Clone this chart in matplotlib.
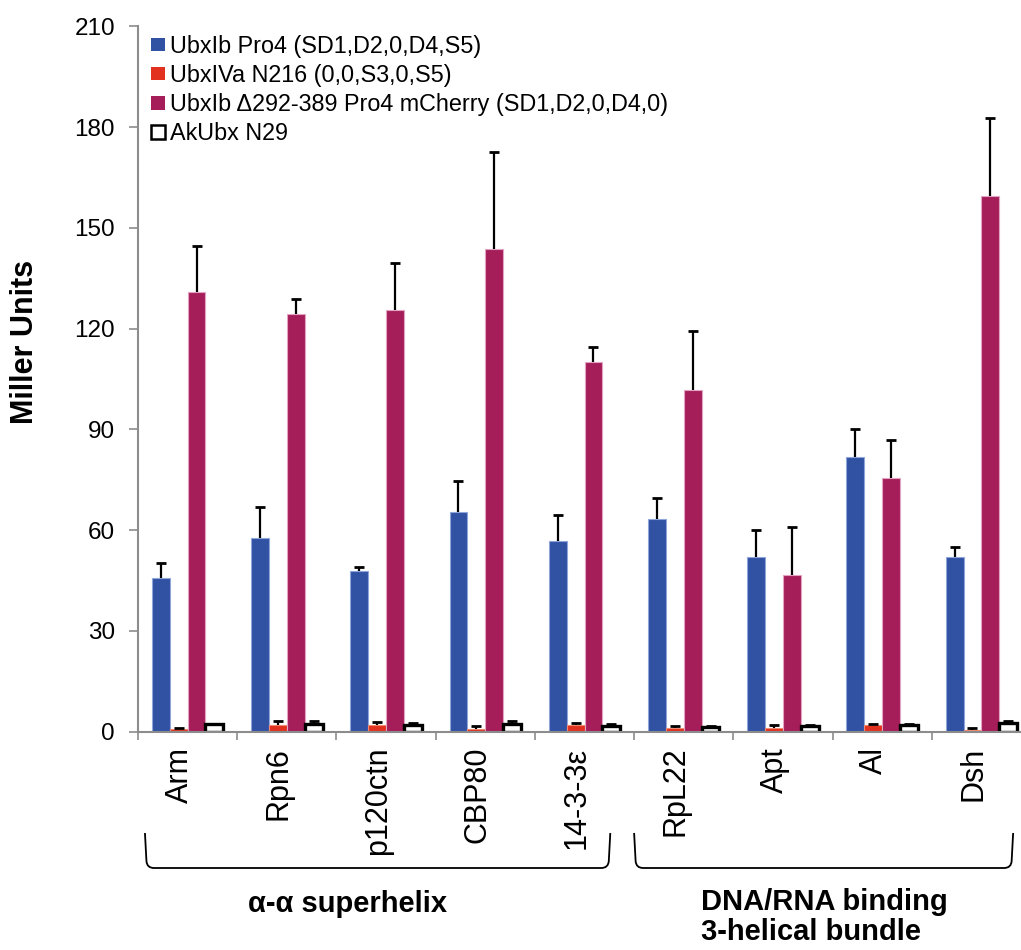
import numpy as np
import matplotlib
matplotlib.use("Agg")
import matplotlib.pyplot as plt
from matplotlib.path import Path
from matplotlib.patches import PathPatch, Patch
from matplotlib.transforms import ScaledTranslation

plt.rcParams['font.family'] = ['Liberation Sans', 'DejaVu Sans']

categories = ['Arm', 'Rpn6', 'p120ctn', 'CBP80', '14-3-3ε', 'RpL22', 'Apt', 'Al', 'Dsh']

series_names = ['UbxIb Pro4 (SD1,D2,0,D4,S5)',
                'UbxIVa N216 (0,0,S3,0,S5)',
                'UbxIb Δ292-389 Pro4 mCherry (SD1,D2,0,D4,0)',
                'AkUbx N29']

pro4 = [45.7, 57.7, 47.9, 65.5, 56.8, 63.3, 52.1, 81.7, 51.9]
pro4_err = [4.5, 9.3, 1.2, 9.2, 7.7, 6.4, 7.9, 8.4, 3.2]

n216 = [0.8, 2.0, 2.0, 0.8, 1.8, 1.0, 1.1, 2.0, 0.3]
n216_err = [0.2, 1.2, 0.8, 0.7, 0.8, 0.5, 0.8, 0.3, 0.7]

mcherry = [130.8, 124.4, 125.6, 143.6, 110.0, 101.7, 46.6, 75.6, 159.5]
mcherry_err = [13.8, 4.3, 13.9, 29.1, 4.5, 17.7, 14.4, 11.2, 23.2]

n29 = [2.2, 2.2, 1.8, 2.2, 1.6, 1.3, 1.5, 1.8, 2.5]
n29_err = [0.0, 0.9, 0.8, 0.8, 0.5, 0.2, 0.4, 0.3, 0.5]

y_ticks = [0, 30, 60, 90, 120, 150, 180, 210]

group_labels = ['α-α superhelix', 'DNA/RNA binding', '3-helical bundle']

W, H = 1021, 950
fig = plt.figure(figsize=(W / 100, H / 100), dpi=100)
ax = fig.add_axes([138 / W, (H - 731.5) / H, 893 / W, 705 / H])

x = np.arange(len(categories))
bw = 0.18
offsets = [-0.27, -0.09, 0.09, 0.27]
fills = ['#3151A3', '#E2311F', '#A51E5A', 'white']
edges = ['#8FA6DA', '#F08A70', '#E3A3C2', 'black']
lws = [0.8, 0.8, 0.8, 2.4]
values = [pro4, n216, mcherry, n29]
errors = [pro4_err, n216_err, mcherry_err, n29_err]

for off, v, e, fc, ec, lw in zip(offsets, values, errors, fills, edges, lws):
    v = np.asarray(v)
    e = np.asarray(e)
    xs = x + off
    ax.bar(xs, v, width=bw, color=fc, edgecolor=ec, linewidth=lw, zorder=2)
    # upper-only error bars: stem from the bar top plus a cap
    ax.vlines(xs, v, v + e, colors='black', linewidth=1.6, zorder=3)
    ax.plot(xs, v + e, linestyle='none', marker='_', markersize=7.5,
            markeredgewidth=2.0, color='black', zorder=3)

ax.set_xlim(-0.5, len(categories) - 0.5)
ax.set_ylim(0, 210)
ax.set_yticks(y_ticks)
ax.set_yticklabels([str(t) for t in y_ticks], fontsize=17.5)
ax.tick_params(axis='y', direction='out', length=6.5, width=1.2, color='#8c8c8c', pad=10)

ax.set_xticks(x)
ax.set_xticklabels(categories, rotation=90, fontsize=22, va='top', ha='center')
ax.set_xticks(np.arange(len(categories) + 1) - 0.5, minor=True)
ax.tick_params(axis='x', which='major', length=0, pad=11)
ax.tick_params(axis='x', which='minor', direction='out', length=6, width=1.2, color='#8c8c8c')
for lab in ax.get_xticklabels():
    lab.set_transform(lab.get_transform() + ScaledTranslation(-8 / 100, 0, fig.dpi_scale_trans))

for side in ['top', 'right']:
    ax.spines[side].set_visible(False)
for side in ['left', 'bottom']:
    ax.spines[side].set_color('#8c8c8c')
    ax.spines[side].set_linewidth(1.5)

# legend in the upper left corner
handles = [Patch(facecolor=fc, edgecolor=(ec if i == 3 else fc), linewidth=(1.8 if i == 3 else 0))
           for i, (fc, ec) in enumerate(zip(fills, edges))]
fig.legend(handles, series_names, loc='upper left', bbox_to_anchor=(151 / W, 1 - 35 / H),
           bbox_transform=fig.transFigure, frameon=False, fontsize=16.8,
           handlelength=0.6, handleheight=0.5, handletextpad=0.2, labelspacing=0.26,
           borderpad=0, borderaxespad=0)

fig.text(25 / W, 1 - 342 / H, 'Miller Units', rotation=90, fontsize=22, fontweight='bold',
         ha='center', va='center')

# brackets grouping the categories, drawn on a pixel-space overlay
ov = fig.add_axes([0, 0, 1, 1], zorder=5)
ov.set_xlim(0, W)
ov.set_ylim(H, 0)
ov.axis('off')
ov.patch.set_alpha(0)


def to_px(xd):
    return ax.transData.transform((xd, 0))[0]


y_top, y_bot, r = 833, 868, 7
bracket_ends = [(-0.43, 4.26), (4.50, 8.32)]
for (x0d, x1d) in bracket_ends:
    x0, x1 = to_px(x0d), to_px(x1d)
    verts = [(x0, y_top), (x0 + 1.5, y_bot - r), (x0 + 2, y_bot), (x0 + r + 2, y_bot),
             (x1 - r - 2, y_bot), (x1 - 2, y_bot), (x1 - 1.5, y_bot - r), (x1, y_top)]
    codes = [Path.MOVETO, Path.LINETO, Path.CURVE3, Path.CURVE3,
             Path.LINETO, Path.CURVE3, Path.CURVE3, Path.LINETO]
    ov.add_patch(PathPatch(Path(verts, codes), facecolor='none', edgecolor='black', linewidth=1.3))

ov.text(348, 912, group_labels[0], fontsize=21, fontweight='bold', ha='center', va='baseline')
ov.text(701, 910, group_labels[1], fontsize=21, fontweight='bold', ha='left', va='baseline')
ov.text(701, 940, group_labels[2], fontsize=21, fontweight='bold', ha='left', va='baseline')

fig.savefig('out.png', dpi=100)
